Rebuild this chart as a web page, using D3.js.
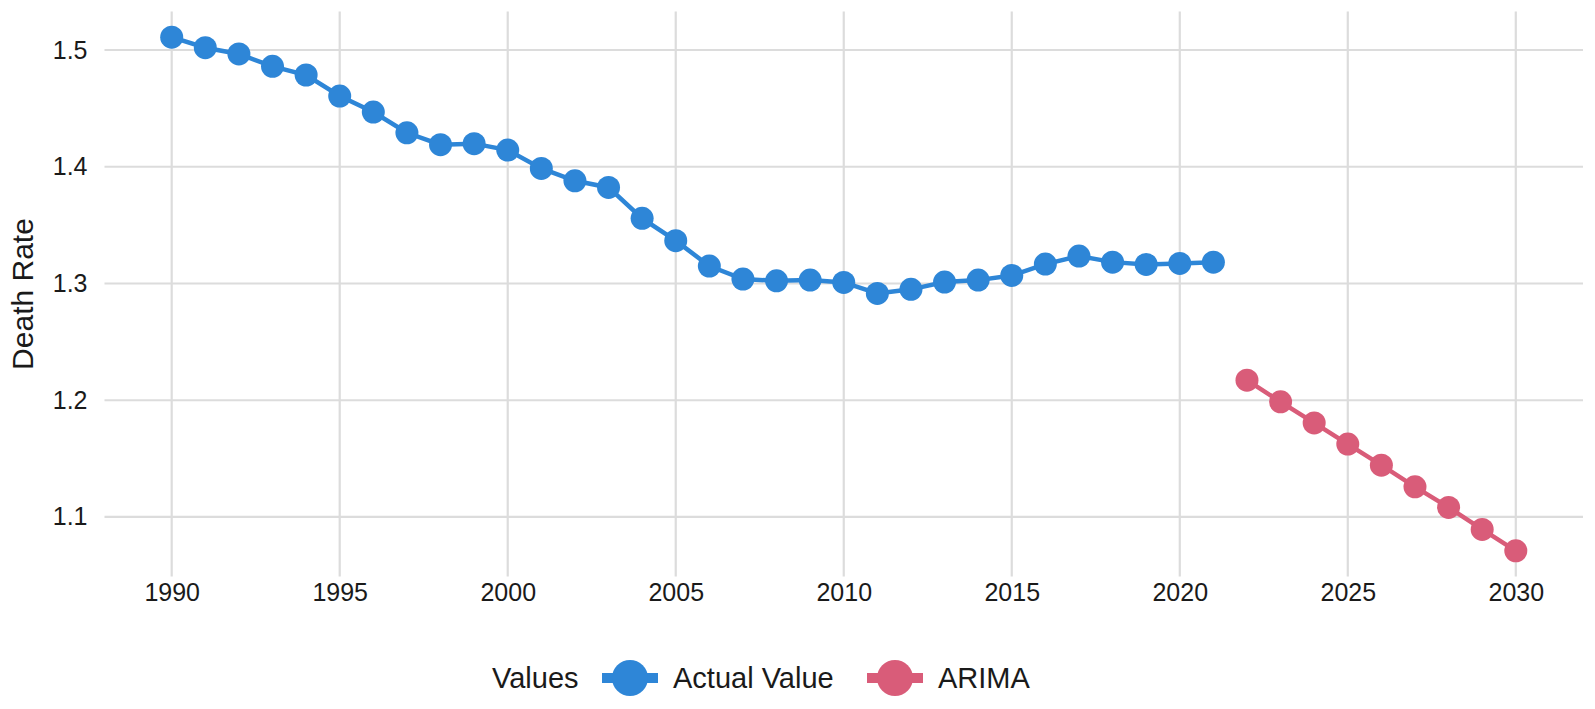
<!DOCTYPE html>
<html>
<head>
<meta charset="utf-8">
<script src="https://cdn.jsdelivr.net/npm/d3@7"></script>
<style>
  body { margin: 0; background: #fff; }
  text { font-family: "Liberation Sans", Arial, Helvetica, sans-serif; fill: #1a1a1a; }
</style>
</head>
<body>
<div class="chart"></div>
<script>
// data
var actualYears = d3.range(1990, 2022);
var actualValues = [1.511, 1.502, 1.4966, 1.486, 1.4786, 1.4606, 1.4469, 1.4291, 1.4189, 1.4198,
    1.4143, 1.3986, 1.388, 1.3823, 1.3558, 1.3367, 1.3149, 1.3038, 1.3023, 1.3029,
    1.3009, 1.2915, 1.295, 1.3012, 1.3029, 1.3069, 1.3166, 1.3235, 1.3183, 1.3163,
    1.3172, 1.3183];
var arimaYears = d3.range(2022, 2031);
var arimaValues = [1.2172, 1.1986, 1.1806, 1.1624, 1.1444, 1.1258, 1.1082, 1.0893, 1.071];
var xTicks = [1990, 1995, 2000, 2005, 2010, 2015, 2020, 2025, 2030];
var yTicks = [1.1, 1.2, 1.3, 1.4, 1.5];
var seriesNames = ["Actual Value", "ARIMA"];
var colors = ["#2e86d7", "#d95c79"];

var w = 1595;
var h = 709;

var svg = d3.select(".chart")
    .append("svg")
    .attr("width", w)
    .attr("height", h);

var plotLeft = 104.5, plotRight = 1583, plotTop = 11.5, plotBottom = 576.5;

var scaleX = d3.scaleLinear()
    .domain([1988, 2032])
    .range([plotLeft, plotRight]);

var scaleY = d3.scaleLinear()
    .domain([1.049, 1.533])
    .range([plotBottom, plotTop]);

// grid
svg.append("g")
    .selectAll("line")
    .data(yTicks)
    .enter()
    .append("line")
    .attr("x1", plotLeft)
    .attr("x2", plotRight)
    .attr("y1", d => scaleY(d))
    .attr("y2", d => scaleY(d))
    .attr("stroke", "#dcdcdc")
    .attr("stroke-width", 2.2);

svg.append("g")
    .selectAll("line")
    .data(xTicks)
    .enter()
    .append("line")
    .attr("x1", d => scaleX(d))
    .attr("x2", d => scaleX(d))
    .attr("y1", plotTop)
    .attr("y2", plotBottom)
    .attr("stroke", "#dcdcdc")
    .attr("stroke-width", 2.2);

// axes (labels only, ggplot minimal look)
var axisX = d3.axisBottom(scaleX)
    .tickValues(xTicks)
    .tickFormat(d3.format("d"))
    .tickSize(0)
    .tickPadding(7);

var gx = svg.append("g")
    .attr("transform", "translate(0," + plotBottom + ")")
    .call(axisX);
gx.select(".domain").remove();
gx.selectAll("text")
    .attr("font-size", 25)
    .attr("font-family", null)
    .attr("fill", null);

var axisY = d3.axisLeft(scaleY)
    .tickValues(yTicks)
    .tickFormat(d3.format(".1f"))
    .tickSize(0)
    .tickPadding(17);

var gy = svg.append("g")
    .attr("transform", "translate(" + plotLeft + ",0)")
    .call(axisY);
gy.select(".domain").remove();
gy.selectAll("text")
    .attr("font-size", 25)
    .attr("font-family", null)
    .attr("fill", null);

svg.append("text")
    .attr("transform", "translate(33," + ((plotTop + plotBottom) / 2) + ") rotate(-90)")
    .attr("text-anchor", "middle")
    .attr("font-size", 30)
    .text("Death Rate");

// series
var line = d3.line()
    .x(d => scaleX(d[0]))
    .y(d => scaleY(d[1]));

var series = [
    d3.zip(actualYears, actualValues),
    d3.zip(arimaYears, arimaValues)
];

series.forEach(function(s, i) {
    svg.append("path")
        .datum(s)
        .attr("d", line)
        .attr("fill", "none")
        .attr("stroke", colors[i])
        .attr("stroke-width", 4.5);

    svg.append("g")
        .selectAll("circle")
        .data(s)
        .enter()
        .append("circle")
        .attr("cx", d => scaleX(d[0]))
        .attr("cy", d => scaleY(d[1]))
        .attr("r", 11.5)
        .attr("fill", colors[i]);
});

// legend
var legend = svg.append("g")
    .attr("transform", "translate(492,678)");

legend.append("text")
    .attr("x", 0)
    .attr("y", 10)
    .attr("font-size", 29)
    .text("Values");

var keyX = [110, 375];
seriesNames.forEach(function(name, i) {
    var k = legend.append("g").attr("transform", "translate(" + keyX[i] + ",0)");
    k.append("line")
        .attr("x1", 0)
        .attr("x2", 56)
        .attr("y1", 0)
        .attr("y2", 0)
        .attr("stroke", colors[i])
        .attr("stroke-width", 10);
    k.append("circle")
        .attr("cx", 28)
        .attr("cy", 0)
        .attr("r", 18)
        .attr("fill", colors[i]);
    k.append("text")
        .attr("x", 71)
        .attr("y", 10)
        .attr("font-size", 29)
        .text(name);
});
</script>
</body>
</html>
